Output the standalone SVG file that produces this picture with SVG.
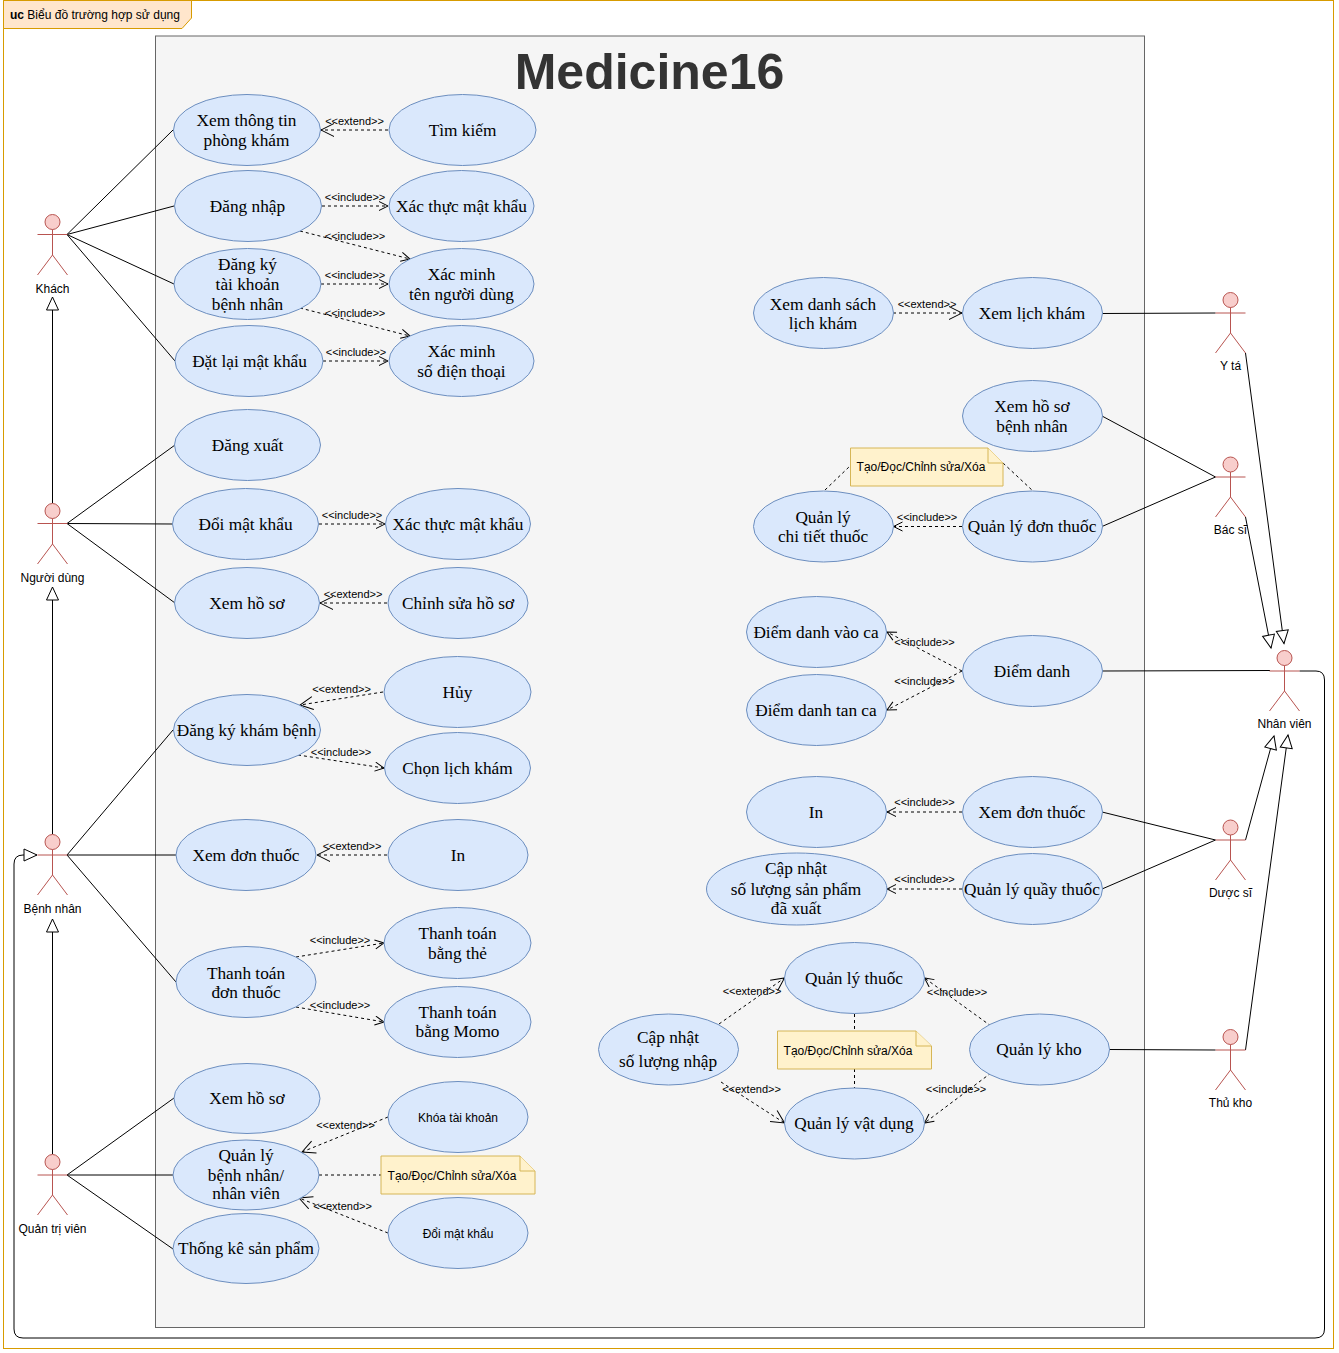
<svg xmlns="http://www.w3.org/2000/svg" width="1339" height="1353" viewBox="0 0 1339 1353">
<style>
.e{fill:#dae8fc;stroke:#6c8ebf;stroke-width:1}
.u{font:17.3px "Liberation Serif",serif;fill:#000;text-anchor:middle}
.s{font:12px "Liberation Sans",Arial,sans-serif;fill:#000;text-anchor:middle}
.l{font:11px "Liberation Sans",Arial,sans-serif;fill:#000;text-anchor:middle}
.a{fill:none;stroke:#b85450;stroke-width:1}
.h{fill:#f8cecc;stroke:#b85450;stroke-width:1}
.c{fill:none;stroke:#000;stroke-width:1}
.d{fill:none;stroke:#000;stroke-width:1;stroke-dasharray:3 3}
.ab{marker-end:url(#o)}
.ag{marker-end:url(#g)}
.at{marker-end:url(#t)}
.n{fill:#fff2cc;stroke:#d6b656;stroke-width:1}
</style>
<defs>
<marker id="o" markerUnits="userSpaceOnUse" markerWidth="12" markerHeight="12" refX="10" refY="5" orient="auto"><path d="M1 0.5L10 5L1 9.5" fill="none" stroke="#000"/></marker>
<marker id="g" markerUnits="userSpaceOnUse" markerWidth="16" markerHeight="16" refX="14" refY="7" orient="auto"><path d="M1 0.5L14 7L1 13.5" fill="none" stroke="#000"/></marker>
<marker id="t" markerUnits="userSpaceOnUse" markerWidth="16" markerHeight="16" refX="14" refY="7" orient="auto"><path d="M1 1L14 7L1 13Z" fill="#fff" stroke="#000"/></marker>
</defs>
<rect id="frame" x="3.500" y="0.500" width="1330" height="1348" fill="#fff" stroke="#d79b00"/>
<path id="frame-tab" d="M3.500 0.500H191.500V18L182 28.500H3.500Z" fill="#ffe6cc" stroke="#d79b00"/>
<text x="10" y="19" style="font:12px 'Liberation Sans',Arial,sans-serif"><tspan font-weight="bold">uc</tspan> Biểu đồ trường hợp sử dụng</text>
<rect id="system" x="155.500" y="36" width="989" height="1291.500" fill="#f5f5f5" stroke="#666"/>
<text x="649.500" y="89" text-anchor="middle" style="font:bold 50px 'Liberation Sans',Arial,sans-serif" fill="#333">Medicine16</text>

<g id="connectors">
<path class="c" d="M67 234.500L173 130M67 234.500L174 206M67 234.500L174 284M67 234.500L175 361"/>
<path class="c" d="M67 523.500L175 445M67 523.500L173 524M67 523.500L175 603"/>
<path class="c" d="M67 855L173 730M67 855L176 855M67 855L176 982"/>
<path class="c" d="M67 1175L174 1098M67 1175L173 1175M67 1175L173 1249"/>
<path class="c" d="M1102 313.500L1215.500 313M1102 416L1215.500 477M1102 526.500L1215.500 477M1102 671L1270 670.500M1102 812L1215.500 840M1102 889L1215.500 840M1109 1049.500L1215.500 1050"/>
<path class="c at" d="M52.500 503V297"/>
<path class="c at" d="M52.500 834V587"/>
<path class="c at" d="M52.500 1154V919"/>
<path class="c at" d="M1299.500 671H1316Q1324.500 671 1324.500 680V1329Q1324.500 1338 1315 1338H23Q14 1338 14 1329V864Q14 855 23 855H37"/>
<path class="c at" d="M1245.500 353L1284 643.500"/>
<path class="c at" d="M1245.500 517L1271 648"/>
<path class="c at" d="M1245.500 840L1274 736"/>
<path class="c at" d="M1245.500 1050L1288 735"/>

<path class="d ag" d="M388 130H321"/>
<path class="d ab" d="M322 206H388"/>
<path class="d ab" d="M300 231L410 259"/>
<path class="d ab" d="M321 284H388"/>
<path class="d ab" d="M300 308L410 336"/>
<path class="d ab" d="M323 361H388"/>
<path class="d ab" d="M319 524H385"/>
<path class="d ag" d="M387 603H320"/>
<path class="d ag" d="M383 692L300 705"/>
<path class="d ab" d="M298 755L384 768"/>
<path class="d ag" d="M387 855H317"/>
<path class="d ab" d="M296 957L384 943"/>
<path class="d ab" d="M296 1007L384 1022"/>
<path class="d ag" d="M388 1117L302 1152"/>
<path class="d" d="M319 1175H381"/>
<path class="d ag" d="M388 1233L299 1198"/>
<path class="d ag" d="M893 313H962"/>
<path class="d" d="M825 490L850 466M1003 463L1033 491"/>
<path class="d ab" d="M962 526.500H893.500"/>
<path class="d ab" d="M962 671L887 632"/>
<path class="d ab" d="M962 671L887 710"/>
<path class="d ab" d="M962 812H887"/>
<path class="d ab" d="M962 889H887"/>
<path class="d ag" d="M719 1024L784.500 978"/>
<path class="d ag" d="M721 1082L784.500 1123"/>
<path class="d ab" d="M991 1026L924.500 978"/>
<path class="d ab" d="M991 1073L924.500 1123"/>
<path class="d" d="M854.500 1014V1031M854.500 1069V1088"/>
</g>
<g id="connector-labels">
<text class="l" x="354.500" y="125">&lt;&lt;extend&gt;&gt;</text>
<text class="l" x="355" y="201">&lt;&lt;include&gt;&gt;</text>
<text class="l" x="355" y="240">&lt;&lt;include&gt;&gt;</text>
<text class="l" x="355" y="279">&lt;&lt;include&gt;&gt;</text>
<text class="l" x="355" y="317">&lt;&lt;include&gt;&gt;</text>
<text class="l" x="356" y="356">&lt;&lt;include&gt;&gt;</text>
<text class="l" x="352" y="519">&lt;&lt;include&gt;&gt;</text>
<text class="l" x="353" y="598">&lt;&lt;extend&gt;&gt;</text>
<text class="l" x="341.500" y="693">&lt;&lt;extend&gt;&gt;</text>
<text class="l" x="341" y="756">&lt;&lt;include&gt;&gt;</text>
<text class="l" x="352" y="850">&lt;&lt;extend&gt;&gt;</text>
<text class="l" x="340" y="944">&lt;&lt;include&gt;&gt;</text>
<text class="l" x="340" y="1009">&lt;&lt;include&gt;&gt;</text>
<text class="l" x="345.500" y="1129">&lt;&lt;extend&gt;&gt;</text>
<text class="l" x="342.500" y="1210">&lt;&lt;extend&gt;&gt;</text>
<text class="l" x="927" y="308">&lt;&lt;extend&gt;&gt;</text>
<text class="l" x="927" y="521">&lt;&lt;include&gt;&gt;</text>
<text class="l" x="924.500" y="646">&lt;&lt;include&gt;&gt;</text>
<text class="l" x="924.500" y="685">&lt;&lt;include&gt;&gt;</text>
<text class="l" x="924.500" y="806">&lt;&lt;include&gt;&gt;</text>
<text class="l" x="924.500" y="883">&lt;&lt;include&gt;&gt;</text>
<text class="l" x="752" y="995">&lt;&lt;extend&gt;&gt;</text>
<text class="l" x="751.500" y="1093">&lt;&lt;extend&gt;&gt;</text>
<text class="l" x="957" y="996">&lt;&lt;include&gt;&gt;</text>
<text class="l" x="956" y="1093">&lt;&lt;include&gt;&gt;</text>
</g>

<g id="uc1"><ellipse class="e" cx="247" cy="130" rx="73.500" ry="35.500"/><text class="u" x="246.500" y="126">Xem thông tin</text><text class="u" x="246.500" y="146">phòng khám</text></g>
<g id="uc2"><ellipse class="e" cx="462.500" cy="130" rx="73.500" ry="35.500"/><text class="u" x="462.500" y="136">Tìm kiếm</text></g>
<g id="uc3"><ellipse class="e" cx="248" cy="206" rx="73.500" ry="35.500"/><text class="u" x="247.500" y="212">Đăng nhập</text></g>
<g id="uc4"><ellipse class="e" cx="461.500" cy="206" rx="72.500" ry="35.500"/><text class="u" x="461.500" y="212">Xác thực mật khẩu</text></g>
<g id="uc5"><ellipse class="e" cx="247.500" cy="284" rx="73.500" ry="35.500"/><text class="u" x="247.500" y="270">Đăng ký</text><text class="u" x="247.500" y="290">tài khoản</text><text class="u" x="247.500" y="310">bệnh nhân</text></g>
<g id="uc6"><ellipse class="e" cx="461.500" cy="284" rx="72.500" ry="35.500"/><text class="u" x="461.500" y="280">Xác minh</text><text class="u" x="461.500" y="300">tên người dùng</text></g>
<g id="uc7"><ellipse class="e" cx="249" cy="361" rx="74" ry="35.500"/><text class="u" x="249.500" y="367">Đặt lại mật khẩu</text></g>
<g id="uc8"><ellipse class="e" cx="461.500" cy="361" rx="72.500" ry="35.500"/><text class="u" x="461.500" y="357">Xác minh</text><text class="u" x="461.500" y="377">số điện thoại</text></g>
<g id="uc9"><ellipse class="e" cx="247.500" cy="445" rx="73" ry="35.500"/><text class="u" x="247.500" y="451">Đăng xuất</text></g>
<g id="uc10"><ellipse class="e" cx="245.500" cy="524" rx="73" ry="35.500"/><text class="u" x="245.500" y="530">Đổi mật khẩu</text></g>
<g id="uc11"><ellipse class="e" cx="458" cy="524" rx="72.500" ry="35.500"/><text class="u" x="458" y="530">Xác thực mật khẩu</text></g>
<g id="uc12"><ellipse class="e" cx="247" cy="603" rx="72.500" ry="35.500"/><text class="u" x="247" y="609">Xem hồ sơ</text></g>
<g id="uc13"><ellipse class="e" cx="458" cy="603" rx="70" ry="35.500"/><text class="u" x="458" y="609">Chỉnh sửa hồ sơ</text></g>
<g id="uc14"><ellipse class="e" cx="457.500" cy="692" rx="73.500" ry="35.500"/><text class="u" x="457.500" y="698">Hủy</text></g>
<g id="uc15"><ellipse class="e" cx="247" cy="730" rx="73.500" ry="35.500"/><text class="u" x="246.500" y="736">Đăng ký khám bệnh</text></g>
<g id="uc16"><ellipse class="e" cx="457.500" cy="768" rx="73" ry="35.500"/><text class="u" x="457.500" y="774">Chọn lịch khám</text></g>
<g id="uc17"><ellipse class="e" cx="246" cy="855" rx="70" ry="35.500"/><text class="u" x="246" y="861">Xem đơn thuốc</text></g>
<g id="uc18"><ellipse class="e" cx="458" cy="855" rx="70" ry="35.500"/><text class="u" x="458" y="861">In</text></g>
<g id="uc19"><ellipse class="e" cx="457.500" cy="943" rx="73.500" ry="35.500"/><text class="u" x="457.500" y="939">Thanh toán</text><text class="u" x="457.500" y="959">bằng thẻ</text></g>
<g id="uc20"><ellipse class="e" cx="246" cy="982" rx="70" ry="35.500"/><text class="u" x="246" y="979">Thanh toán</text><text class="u" x="246" y="998">đơn thuốc</text></g>
<g id="uc21"><ellipse class="e" cx="457.500" cy="1022" rx="73.500" ry="35.500"/><text class="u" x="457.500" y="1018">Thanh toán</text><text class="u" x="457.500" y="1037">bằng Momo</text></g>
<g id="uc22"><ellipse class="e" cx="247" cy="1098.500" rx="73" ry="35"/><text class="u" x="247" y="1104">Xem hồ sơ</text></g>
<g id="uc23"><ellipse class="e" cx="458" cy="1117" rx="70" ry="35.500"/><text class="s" x="458" y="1122">Khóa tài khoản</text></g>
<g id="uc24"><ellipse class="e" cx="246" cy="1175" rx="73" ry="35"/><text class="u" x="246" y="1161">Quản lý</text><text class="u" x="246" y="1181">bệnh nhân/</text><text class="u" x="246" y="1199">nhân viên</text></g>
<g id="uc25"><ellipse class="e" cx="458" cy="1233" rx="70" ry="35.500"/><text class="s" x="458" y="1238">Đổi mật khẩu</text></g>
<g id="uc26"><ellipse class="e" cx="246" cy="1248.500" rx="73" ry="35"/><text class="u" x="246" y="1254">Thống kê sản phẩm</text></g>

<g id="uc27"><ellipse class="e" cx="823.500" cy="313" rx="70" ry="35.500"/><text class="u" x="823" y="310">Xem danh sách</text><text class="u" x="823" y="329">lịch khám</text></g>
<g id="uc28"><ellipse class="e" cx="1032.500" cy="313" rx="70" ry="35.500"/><text class="u" x="1032" y="319">Xem lịch khám</text></g>
<g id="uc29"><ellipse class="e" cx="1032.500" cy="416" rx="70" ry="35.500"/><text class="u" x="1032" y="412">Xem hồ sơ</text><text class="u" x="1032" y="432">bệnh nhân</text></g>
<g id="uc30"><ellipse class="e" cx="823.500" cy="526.500" rx="70" ry="35.500"/><text class="u" x="823" y="523">Quản lý</text><text class="u" x="823" y="542">chi tiết thuốc</text></g>
<g id="uc31"><ellipse class="e" cx="1032.500" cy="526.500" rx="70" ry="35.500"/><text class="u" x="1032" y="532">Quản lý đơn thuốc</text></g>
<g id="uc32"><ellipse class="e" cx="816.500" cy="632" rx="70" ry="35.500"/><text class="u" x="816" y="638">Điểm danh vào ca</text></g>
<g id="uc33"><ellipse class="e" cx="816.500" cy="710" rx="70" ry="35.500"/><text class="u" x="816" y="716">Điểm danh tan ca</text></g>
<g id="uc34"><ellipse class="e" cx="1032.500" cy="671" rx="70" ry="35.500"/><text class="u" x="1032" y="677">Điểm danh</text></g>
<g id="uc35"><ellipse class="e" cx="816.500" cy="812" rx="70" ry="35.500"/><text class="u" x="816" y="818">In</text></g>
<g id="uc36"><ellipse class="e" cx="1032.500" cy="812" rx="70" ry="35.500"/><text class="u" x="1032" y="818">Xem đơn thuốc</text></g>
<g id="uc37"><ellipse class="e" cx="796.750" cy="889" rx="90.250" ry="36"/><text class="u" x="796" y="874">Cập nhật</text><text class="u" x="796" y="895">số lượng sản phẩm</text><text class="u" x="796" y="914">đã xuất</text></g>
<g id="uc38"><ellipse class="e" cx="1032.500" cy="889" rx="70" ry="35.500"/><text class="u" x="1032" y="895">Quản lý quầy thuốc</text></g>
<g id="uc39"><ellipse class="e" cx="854.500" cy="978" rx="70" ry="35.500"/><text class="u" x="854" y="984">Quản lý thuốc</text></g>
<g id="uc40"><ellipse class="e" cx="668.500" cy="1049.500" rx="70" ry="35.500"/><text class="u" x="668" y="1043">Cập nhật</text><text class="u" x="668" y="1067">số lượng nhập</text></g>
<g id="uc41"><ellipse class="e" cx="1039.500" cy="1049.500" rx="70" ry="35.500"/><text class="u" x="1039" y="1055">Quản lý kho</text></g>
<g id="uc42"><ellipse class="e" cx="854.500" cy="1123.500" rx="70" ry="35.500"/><text class="u" x="854" y="1129">Quản lý vật dụng</text></g>

<g id="note1"><path class="n" d="M850.500 448H988L1003 463V486H850.500Z"/><path class="n" d="M988 448V463H1003"/><text class="s" x="921" y="471">Tạo/Đọc/Chỉnh sửa/Xóa</text></g>
<g id="note2"><path class="n" d="M777.500 1031H916L931.500 1046V1069H777.500Z"/><path class="n" d="M916 1031V1046H931.500"/><text class="s" x="848" y="1055">Tạo/Đọc/Chỉnh sửa/Xóa</text></g>
<g id="note3"><path class="n" d="M381 1156H520L535 1171V1194H381Z"/><path class="n" d="M520 1156V1171H535"/><text class="s" x="452" y="1180">Tạo/Đọc/Chỉnh sửa/Xóa</text></g>

<g id="actor-khach"><circle class="h" cx="52.500" cy="222" r="7.500"/><path class="a" d="M52.500 229.500V255M37.500 234.500H67.500M37.500 275L52.500 255L67.500 275"/><text class="s" x="52.500" y="293">Khách</text></g>
<g id="actor-nguoidung"><circle class="h" cx="52.500" cy="511" r="7.500"/><path class="a" d="M52.500 518.500V544M37.500 523.500H67.500M37.500 564L52.500 544L67.500 564"/><text class="s" x="52.500" y="582">Người dùng</text></g>
<g id="actor-benhnhan"><circle class="h" cx="52.500" cy="842" r="7.500"/><path class="a" d="M52.500 849.500V875M37.500 855H67.500M37.500 895L52.500 875L67.500 895"/><text class="s" x="52.500" y="913">Bệnh nhân</text></g>
<g id="actor-quantri"><circle class="h" cx="52.500" cy="1162" r="7.500"/><path class="a" d="M52.500 1169.500V1195M37.500 1175H67.500M37.500 1215L52.500 1195L67.500 1215"/><text class="s" x="52.500" y="1233">Quản trị viên</text></g>
<g id="actor-yta"><circle class="h" cx="1230.500" cy="300" r="7.500"/><path class="a" d="M1230.500 307.500V333M1215.500 313H1245.500M1215.500 353L1230.500 333L1245.500 353"/><text class="s" x="1230.500" y="370">Y tá</text></g>
<g id="actor-bacsi"><circle class="h" cx="1230.500" cy="464.500" r="7.500"/><path class="a" d="M1230.500 472V497M1215.500 477H1245.500M1215.500 517L1230.500 497L1245.500 517"/><text class="s" x="1230.500" y="534">Bác sĩ</text></g>
<g id="actor-nhanvien"><circle class="h" cx="1284.500" cy="658" r="7.500"/><path class="a" d="M1284.500 665.500V691M1269.500 671H1299.500M1269.500 711L1284.500 691L1299.500 711"/><text class="s" x="1284.500" y="728">Nhân viên</text></g>
<g id="actor-duocsi"><circle class="h" cx="1230.500" cy="827.500" r="7.500"/><path class="a" d="M1230.500 835V860M1215.500 840H1245.500M1215.500 880L1230.500 860L1245.500 880"/><text class="s" x="1230.500" y="897">Dược sĩ</text></g>
<g id="actor-thukho"><circle class="h" cx="1230.500" cy="1037" r="7.500"/><path class="a" d="M1230.500 1044.500V1070M1215.500 1050H1245.500M1215.500 1090L1230.500 1070L1245.500 1090"/><text class="s" x="1230.500" y="1107">Thủ kho</text></g>
</svg>
